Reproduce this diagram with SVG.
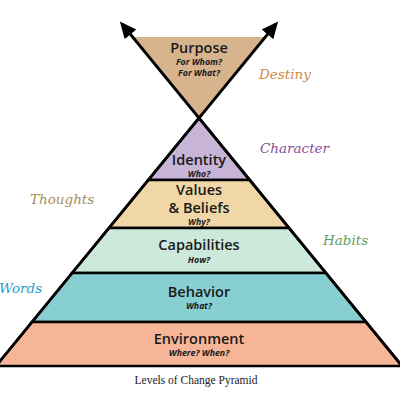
<svg xmlns="http://www.w3.org/2000/svg" width="400" height="400" viewBox="0 0 400 400">
<style>
.lay{stroke:#000;stroke-width:2.5;stroke-linejoin:miter}
.t{font-family:"Open Sans","Liberation Sans",sans-serif;font-weight:600;font-size:14.5px;fill:#1a1a1a;text-anchor:middle}
.s{font-family:"Open Sans","Liberation Sans",sans-serif;font-weight:700;font-style:italic;font-size:8.8px;fill:#1a1a1a;text-anchor:middle}
.side{font-family:"DejaVu Serif",serif;font-style:italic;font-size:13.5px}
.cap{font-family:"Liberation Serif",serif;font-size:11.5px;fill:#222;text-anchor:middle}
.ln{stroke:#000;stroke-width:2.8;fill:none}
</style>
<defs>
<marker id="ah" viewBox="0 0 10 10" refX="8" refY="5" markerWidth="6" markerHeight="6" orient="auto" markerUnits="strokeWidth">
<path d="M0,0.5 L10,5 L0,9.5 Z" fill="#000"/>
</marker>
</defs>
<rect width="400" height="400" fill="#fff"/>
<g id="purpose">
<polygon points="133,37 265,37 199,118" fill="#D8B48E"/>
<text class="t" x="199" y="53">Purpose</text>
<text class="s" x="199" y="65">For Whom?</text>
<text class="s" x="199" y="76">For What?</text>
</g>
<g id="identity">
<polygon class="lay" points="199,118 249.7,180 148.3,180" fill="#C7B4D6"/>
<text class="t" x="199" y="165">Identity</text>
<text class="s" x="199" y="177">Who?</text>
</g>
<g id="values">
<polygon class="lay" points="148.3,180 249.7,180 289,228 109,228" fill="#F1D6A8"/>
<text class="t" x="199" y="194.5">Values</text>
<text class="t" x="199" y="213">&amp; Beliefs</text>
<text class="s" x="199" y="224.5">Why?</text>
</g>
<g id="capabilities">
<polygon class="lay" points="109,228 289,228 325.9,273 72.1,273" fill="#CDE9DB"/>
<text class="t" x="199" y="250">Capabilities</text>
<text class="s" x="199" y="263">How?</text>
</g>
<g id="behavior">
<polygon class="lay" points="72.1,273 325.9,273 366,322 32,322" fill="#88CFD2"/>
<text class="t" x="199" y="297">Behavior</text>
<text class="s" x="199" y="309">What?</text>
</g>
<g id="environment">
<polygon class="lay" points="32,322 366,322 402,366 -4,366" fill="#F7B597"/>
<text class="t" x="199" y="344">Environment</text>
<text class="s" x="199" y="356">Where? When?</text>
</g>
<g id="connectors">
<line class="ln" x1="-4" y1="366" x2="276" y2="24" marker-end="url(#ah)"/>
<line class="ln" x1="402" y1="366" x2="122" y2="24" marker-end="url(#ah)"/>
</g>
<g id="labels">
<text class="side" x="259" y="79" fill="#D08A48">Destiny</text>
<text class="side" x="260" y="153" fill="#8A4E98">Character</text>
<text class="side" x="30" y="204" fill="#A58E5E">Thoughts</text>
<text class="side" x="323" y="245" fill="#5E9E5E">Habits</text>
<text class="side" x="-1" y="293" fill="#2E9BCB">Words</text>
</g>
<text class="cap" x="196" y="384">Levels of Change Pyramid</text>
</svg>
